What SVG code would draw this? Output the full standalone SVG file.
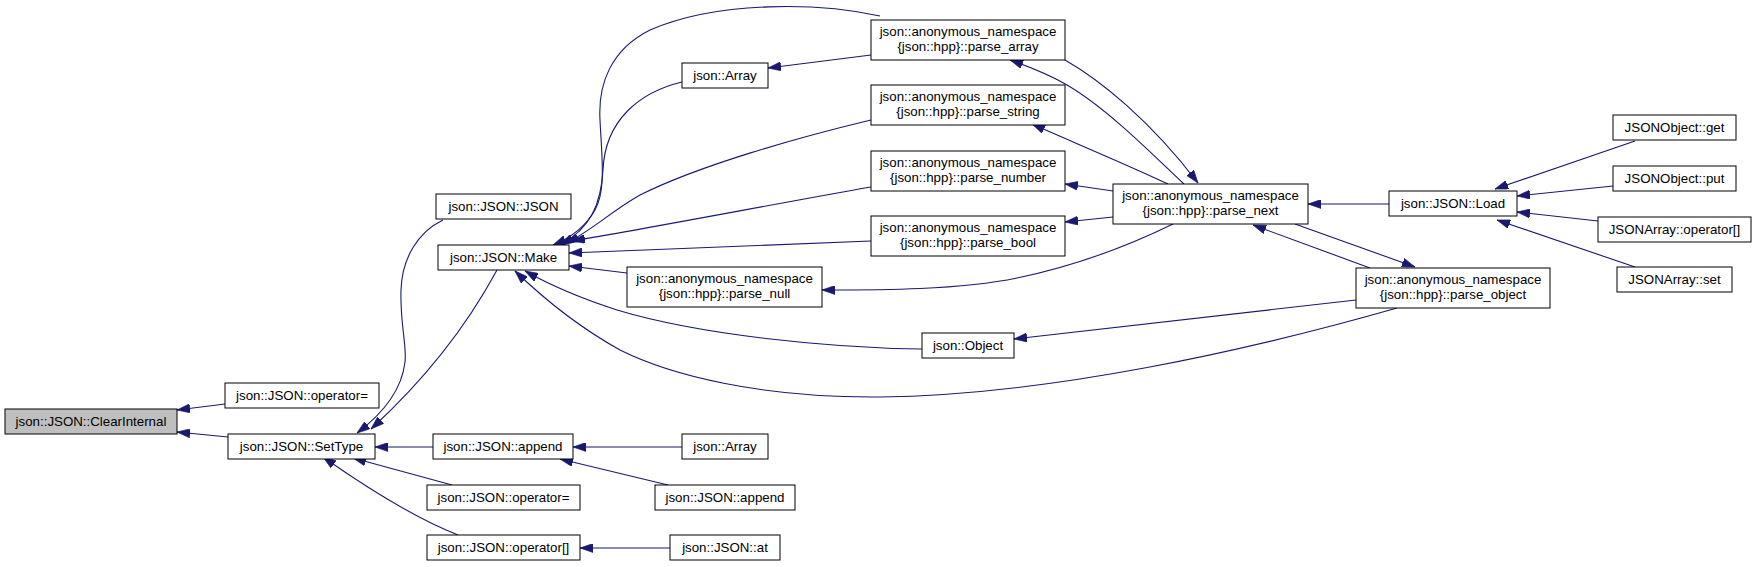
<svg xmlns="http://www.w3.org/2000/svg" width="1756" height="567" viewBox="0 0 1756 567">
<style>
.n rect{fill:#fff;stroke:#000;stroke-width:1}
.n text{font-family:"Liberation Sans",Arial,Helvetica,sans-serif;font-size:13.3px;text-anchor:middle;fill:#000}
.e path{fill:none;stroke:#191970;stroke-width:1.1;marker-end:url(#ah)}
</style>
<defs>
<marker id="ah" viewBox="0 0 10 7" refX="10" refY="3.5" markerWidth="13" markerHeight="9" markerUnits="userSpaceOnUse" orient="auto" preserveAspectRatio="none">
<path d="M0,0 L10,3.5 L0,7 z" fill="#191970" stroke="#191970" stroke-width="0.5"/>
</marker>
</defs>
<rect x="0" y="0" width="1756" height="567" fill="#fff"/>
<g id="edges" class="e">
<path d="M225,404 L177,410"/>
<path d="M228,437 L177,432"/>
<path d="M443,220 C418,232 402,258 401,290 C400,325 407,345 405,362 C402,388 385,412 357,433"/>
<path d="M497,270 C470,320 430,375 371,429"/>
<path d="M433,447 L375,447"/>
<path d="M452,485 L353,458"/>
<path d="M458,535 C420,520 370,490 323,457"/>
<path d="M682,447 L573,447"/>
<path d="M668,485 L560,459"/>
<path d="M670,548 L580,548"/>
<path d="M682,82 C640,92 605,120 603,170 C601,205 590,228 561,245"/>
<path d="M880,16 C820,3 720,0 650,30 C610,50 598,85 600,120 C602,160 606,190 595,210 C585,228 570,238 553,245"/>
<path d="M871,55 L768,68"/>
<path d="M871,120 C800,137 700,165 640,195 C610,212 590,232 566,243"/>
<path d="M871,187 C780,203 650,228 572,241"/>
<path d="M871,241 L569,253"/>
<path d="M627,273 L569,266"/>
<path d="M922,349 C830,348 700,335 617,310 C580,298 550,285 525,271"/>
<path d="M1397,308 C1250,350 1050,395 880,397 C760,398 670,375 620,350 C575,325 540,295 515,271"/>
<path d="M1173,224 C1130,245 1080,265 1017,278 C960,290 880,290 822,290"/>
<path d="M1113,217 L1065,222"/>
<path d="M1113,191 L1065,184"/>
<path d="M1168,184 C1130,166 1075,143 1032,124"/>
<path d="M1184,184 C1160,162 1110,110 1067,85 C1050,75 1030,67 1010,60"/>
<path d="M1065,60 C1100,80 1150,120 1198,183"/>
<path d="M1389,204 L1308,204"/>
<path d="M1370,268 L1253,225"/>
<path d="M1295,224 L1415,267"/>
<path d="M1356,300 L1014,339"/>
<path d="M1635,141 L1495,189"/>
<path d="M1613,186 L1517,196"/>
<path d="M1598,221 L1517,212"/>
<path d="M1635,267 L1497,220"/>
</g>
<g id="n_clear" class="n"><rect x="5" y="409" width="172" height="25" style="fill:#bfbfbf"/><text x="91" y="426">json::JSON::ClearInternal</text></g>
<g id="n_opeq1" class="n"><rect x="225" y="383" width="154" height="25"/><text x="302" y="400">json::JSON::operator=</text></g>
<g id="n_settype" class="n"><rect x="228" y="434" width="147" height="25"/><text x="301.5" y="451">json::JSON::SetType</text></g>
<g id="n_jsonctor" class="n"><rect x="436" y="194" width="135" height="25"/><text x="503.5" y="211">json::JSON::JSON</text></g>
<g id="n_make" class="n"><rect x="438" y="245" width="131" height="25"/><text x="503.5" y="262">json::JSON::Make</text></g>
<g id="n_append" class="n"><rect x="433" y="434" width="140" height="25"/><text x="503" y="451">json::JSON::append</text></g>
<g id="n_opeq2" class="n"><rect x="427" y="485" width="153" height="25"/><text x="503.5" y="502">json::JSON::operator=</text></g>
<g id="n_opidx" class="n"><rect x="427" y="535" width="153" height="25"/><text x="503.5" y="552">json::JSON::operator[]</text></g>
<g id="n_array1" class="n"><rect x="682" y="63" width="86" height="25"/><text x="725" y="80">json::Array</text></g>
<g id="n_array2" class="n"><rect x="682" y="434" width="86" height="25"/><text x="725" y="451">json::Array</text></g>
<g id="n_append2" class="n"><rect x="655" y="485" width="140" height="25"/><text x="725" y="502">json::JSON::append</text></g>
<g id="n_at" class="n"><rect x="670" y="535" width="110" height="25"/><text x="725" y="552">json::JSON::at</text></g>
<g id="n_parsenull" class="n"><rect x="627" y="267" width="195" height="40"/><text x="724.5" y="283">json::anonymous_namespace</text><text x="724.5" y="298">{json::hpp}::parse_null</text></g>
<g id="n_object" class="n"><rect x="922" y="333" width="92" height="25"/><text x="968" y="350">json::Object</text></g>
<g id="n_parsearray" class="n"><rect x="871" y="20" width="194" height="40"/><text x="968" y="36">json::anonymous_namespace</text><text x="968" y="51">{json::hpp}::parse_array</text></g>
<g id="n_parsestring" class="n"><rect x="871" y="85" width="194" height="40"/><text x="968" y="101">json::anonymous_namespace</text><text x="968" y="116">{json::hpp}::parse_string</text></g>
<g id="n_parsenumber" class="n"><rect x="871" y="151" width="194" height="40"/><text x="968" y="167">json::anonymous_namespace</text><text x="968" y="182">{json::hpp}::parse_number</text></g>
<g id="n_parsebool" class="n"><rect x="871" y="216" width="194" height="40"/><text x="968" y="232">json::anonymous_namespace</text><text x="968" y="247">{json::hpp}::parse_bool</text></g>
<g id="n_parsenext" class="n"><rect x="1113" y="184" width="195" height="40"/><text x="1210.5" y="200">json::anonymous_namespace</text><text x="1210.5" y="215">{json::hpp}::parse_next</text></g>
<g id="n_load" class="n"><rect x="1389" y="191" width="128" height="25"/><text x="1453" y="208">json::JSON::Load</text></g>
<g id="n_parseobject" class="n"><rect x="1356" y="268" width="194" height="40"/><text x="1453" y="284">json::anonymous_namespace</text><text x="1453" y="299">{json::hpp}::parse_object</text></g>
<g id="n_get" class="n"><rect x="1613" y="115" width="123" height="25"/><text x="1674.5" y="132">JSONObject::get</text></g>
<g id="n_put" class="n"><rect x="1613" y="166" width="123" height="25"/><text x="1674.5" y="183">JSONObject::put</text></g>
<g id="n_arridx" class="n"><rect x="1598" y="217" width="153" height="25"/><text x="1674.5" y="234">JSONArray::operator[]</text></g>
<g id="n_set" class="n"><rect x="1617" y="267" width="115" height="25"/><text x="1674.5" y="284">JSONArray::set</text></g>
</svg>
